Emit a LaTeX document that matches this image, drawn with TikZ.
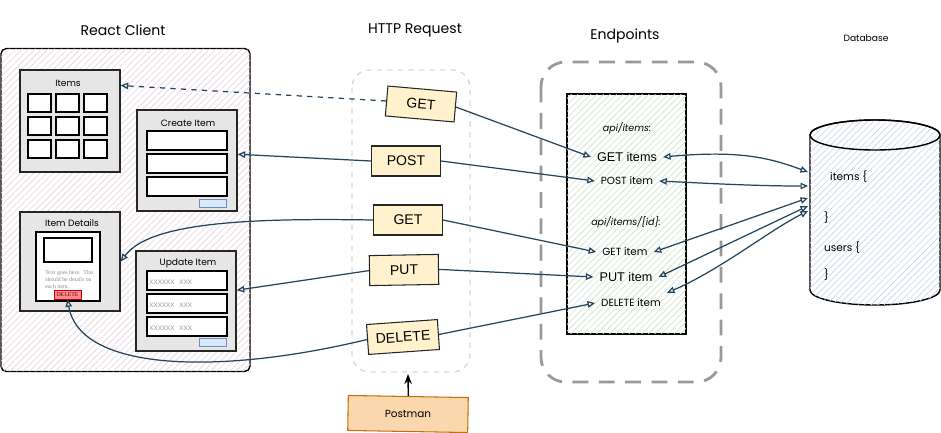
\documentclass[tikz,border=0pt]{standalone}
\usepackage{fontspec}
\setmainfont{Liberation Sans}
\newfontfamily\sketchfont{Poppins}
\newfontfamily\cardfont{Liberation Serif}
\usetikzlibrary{arrows.meta,positioning,calc,patterns.meta}
\definecolor{linkblue}{HTML}{23445D}
\definecolor{panelgrey}{HTML}{E6E6E6}
\definecolor{reqyellow}{HTML}{FFF2CC}
\definecolor{btnblue}{HTML}{DAE8FC}
\definecolor{btnedge}{HTML}{6C8EBF}
\definecolor{postfill}{HTML}{FAD7AC}
\definecolor{postedge}{HTML}{C07010}
\definecolor{hatchpink}{HTML}{E8D2DF}
\definecolor{hatchgreen}{HTML}{CFE3CC}
\definecolor{hatchblue}{HTML}{C6D6EE}
\tikzset{
  hatch/.style      = {postaction={pattern={Lines[angle=45,distance=2.6pt,line width=0.35pt]},
                       pattern color=#1}},
  panel/.style      = {draw=black!85, thick, fill=panelgrey, minimum width=2cm,
                       minimum height=2cm, inner sep=0pt},
  field/.style      = {draw=black, semithick, fill=white},
  btn/.style        = {draw=btnedge, fill=btnblue},
  method/.style     = {draw=black!85, semithick, fill=reqyellow, minimum width=1.38cm,
                       minimum height=0.6cm, inner sep=0pt, font=\fontsize{8}{9}\selectfont},
  tip/.tip          = {Triangle[open, length=1.5mm, width=1.3mm]},
  link/.style       = {draw=linkblue, line width=0.7pt, -tip},
  both/.style       = {draw=linkblue, line width=0.7pt, tip-tip},
  title/.style      = {font=\sketchfont\fontsize{8}{9}\selectfont},
  ptitle/.style     = {font=\sketchfont\fontsize{5.2}{6}\selectfont},
  ep/.style         = {font=\sketchfont\fontsize{5.9}{7}\selectfont},
  epbig/.style      = {font=\fontsize{7.2}{8}\selectfont},
  ghost/.style      = {font=\fontsize{4.8}{5}\selectfont, text=black!35, inner sep=0pt},
}

\begin{document}
\begin{tikzpicture}[x=0.02cm, y=-0.02cm]
  \useasboundingbox (0,0) rectangle (941,433);
  % titles
  \node[title] (clientT) at (123,30) {React Client};
  \node[title] (reqT) at (415,30) {HTTP Request};
  \node[title] (epT) at (625,36) {Endpoints};
  \node[ptitle] (dbT) at (866,38) {Database};

  % react client
  \node[draw=black, thick, rounded corners=3pt, fill=white, hatch=hatchpink,
        minimum width=4.98cm, minimum height=6.46cm] (client) at (125.5,210) {};
  \node[panel, minimum height=2.04cm] (items) at (70,121) {};
  \node[ptitle] (itemsT) at (68,83) {Items};
  \foreach \x in {28,56,84}
    \foreach \y in {94,117,140}
      \draw[field] (\x,\y) rectangle ++(23,18);
  \node[panel, minimum height=2.02cm] (create) at (187,160.5) {};
  \node[ptitle] (createT) at (188,123) {Create Item};
  \foreach \y in {131,154,177}
    \draw[field] (147,\y) rectangle ++(80,19);
  \draw[btn] (199,199) rectangle (226,207);
  \node[panel, minimum height=1.98cm] (det) at (70,261.5) {};
  \node[ptitle] (detT) at (72,223) {Item Details};
  \draw[field] (36,232) rectangle (100,301);
  \draw[field] (44,238) rectangle (92,262);
  \node[anchor=north west, inner sep=0pt, align=left, text=black!45,
        font=\cardfont\fontsize{3.3}{4.1}\selectfont] (cardT) at (45,270)
    {Text goes here.\ \ This\\should be details on\\each item.};
  \node[draw=red!80!black, fill=red!45, minimum width=0.54cm, minimum height=0.18cm,
        inner sep=0pt, font=\cardfont\fontsize{3.3}{4}\selectfont, text=red!40!black] (delbtn) at (67.5,294.5) {DELETE};
  \node[panel] (upd) at (186,301) {};
  \node[ptitle] (updT) at (188,263) {Update Item};
  \foreach \y in {271,294,317}{
    \draw[field] (147,\y) rectangle ++(80,19);
    \node[ghost, anchor=west] (ux\y) at (149,\y+11) {xxxxxx\ \ xxx};
  }
  \draw[btn] (199,338) rectangle (226,346);

  % http requests
  \draw[black!15, thick, dashed, rounded corners=10pt] (352,70) rectangle (470,372);
  \node[method, rotate=-5] (get1) at (421,104) {GET};
  \node[method] (post) at (406,161) {POST};
  \node[method] (get2) at (408,220) {GET};
  \node[method, rotate=1] (put) at (404,270) {PUT};
  \node[method, rotate=4, minimum width=1.42cm] (del) at (403,337) {DELETE};
  \node[draw=postedge, semithick, fill=postfill, minimum width=2.4cm, minimum height=0.7cm,
        rotate=-1, ep] (postman) at (408,414) {Postman};
  \draw[-{Stealth[length=2mm]}, thick] (postman.north) -- (408,374);

  % endpoints
  \draw[black!40, line width=1.6pt, dash pattern=on 9pt off 6pt, rounded corners=14pt]
    (541,62) rectangle (721,382);
  \node[draw=black, thick, fill=white, hatch=hatchgreen, minimum width=2.38cm,
        minimum height=4.8cm] (api) at (626.5,214) {};
  \node[ep, font=\sketchfont\itshape\fontsize{5.4}{6}\selectfont] (apiAll) at (627,128) {api/items:};
  \node[epbig] (epGetAll) at (627,157) {GET items};
  \node[ep] (epPost) at (627,181) {POST item};
  \node[ep, font=\sketchfont\itshape\fontsize{5.4}{6}\selectfont] (apiOne) at (626,222) {api/items/[id]:};
  \node[ep] (epGet) at (625,252) {GET item};
  \node[epbig] (epPut) at (626,277) {PUT item};
  \node[ep] (epDel) at (631,303) {DELETE item};

  % database
  \draw[black, thick, fill=white, hatch=hatchblue]
    (810,135) -- (810,290) arc[start angle=180, end angle=0, x radius=65, y radius=15]
    -- (940,135) arc[start angle=0, end angle=-180, x radius=65, y radius=15] -- cycle;
  \draw[black, thick] (875,135) ellipse[x radius=65, y radius=15];
  \node[ep, anchor=west, font=\sketchfont\fontsize{6}{7}\selectfont] (dbItems) at (824,177) {items \{};
  \node[ep, anchor=west, font=\sketchfont\fontsize{6}{7}\selectfont] (dbItemsEnd) at (818,218) {\}};
  \node[ep, anchor=west, font=\sketchfont\fontsize{6}{7}\selectfont] (dbUsers) at (818,248) {users \{};
  \node[ep, anchor=west, font=\sketchfont\fontsize{6}{7}\selectfont] (dbUsersEnd) at (818,275) {\}};
  \coordinate (dbA) at (808,172);
  \coordinate (dbB) at (808,186);
  \coordinate (dbC) at (808,198);
  \coordinate (dbD) at (808,206);
  \coordinate (dbE) at (808,211);

  % requests to client panels
  \draw[link, dashed] (get1.west) -- (items.35);
  \draw[link] (post.west) -- (create.7);
  \draw[link] (get2.west) .. controls (250,218) and (150,222) .. (det.east);
  \draw[link] (put.west) -- (upd.12);
  \draw[link] (del.west) .. controls (220,375) and (80,372) .. (delbtn.south);

  % requests to endpoints
  \draw[link] (get1.east) -- (epGetAll.west);
  \draw[link] (post.east) -- (epPost.west);
  \draw[link] (get2.east) -- (epGet.west);
  \draw[link] (put.east) -- (epPut.west);
  \draw[link] (del.east) -- (epDel.west);

  % endpoints to database
  \draw[both] (epGetAll.east) .. controls (740,150) and (770,158) .. (dbA);
  \draw[both] (epPost.east) .. controls (720,184) and (760,186) .. (dbB);
  \draw[both] (epGet.east) -- (dbC);
  \draw[both] (epPut.east) -- (dbD);
  \draw[both] (epDel.north east) .. controls (720,270) and (770,230) .. (dbE);
\end{tikzpicture}
\end{document}
